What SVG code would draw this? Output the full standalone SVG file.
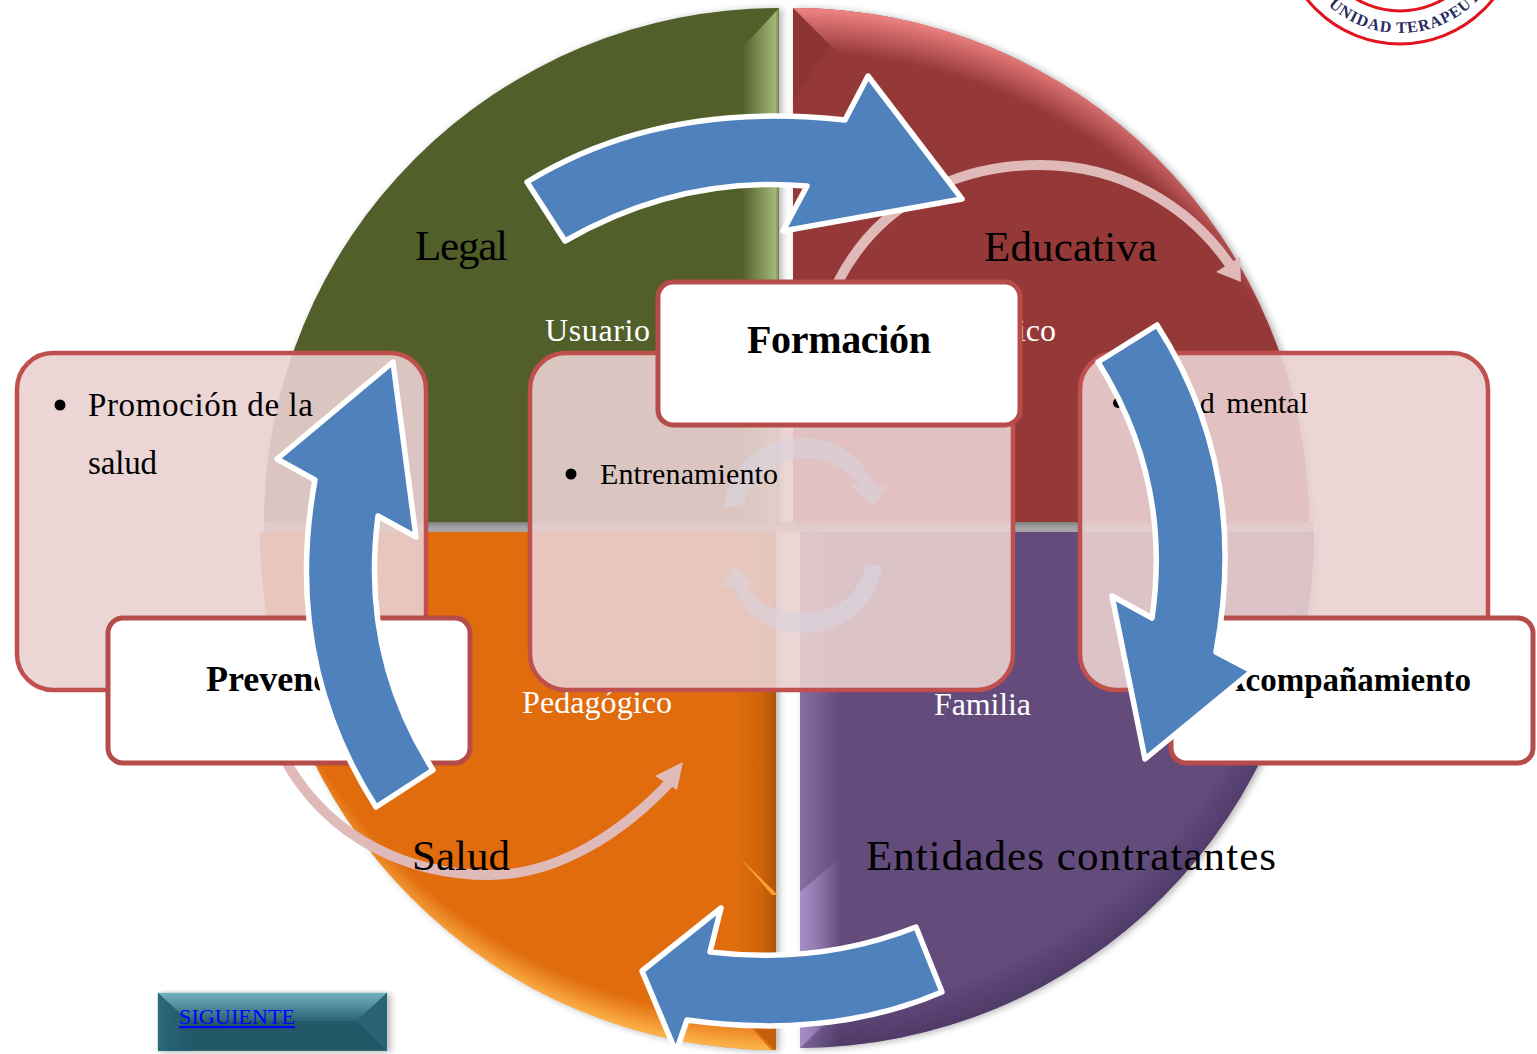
<svg xmlns="http://www.w3.org/2000/svg" xmlns:xlink="http://www.w3.org/1999/xlink" width="1537" height="1054" viewBox="0 0 1537 1054">
<style>
text{font-family:"Liberation Serif","Times New Roman",serif}
.big{font-size:43px;fill:#000}
.wh{font-size:32px;fill:#fff}
.bd{font-size:33px;fill:#000}
.hd{font-weight:bold;fill:#000}
.pink{fill:#e9d0d0;fill-opacity:.9;stroke:#c0504d;stroke-width:4.5}
.white{fill:#fff;stroke:#b54c49;stroke-width:5}
.blue{fill:#4f81bd;stroke:#fff;stroke-width:5.5;stroke-linejoin:round}
.arc{fill:none;stroke:#e0b9b9;stroke-width:10}
.head{fill:#e0b9b9}
.faint{fill:#d9d3de;fill-opacity:.6}
</style>
<defs>
<filter id="sh" x="-5%" y="-5%" width="110%" height="110%"><feDropShadow dx="3" dy="1" stdDeviation="3.5" flood-color="#000" flood-opacity=".3"/></filter>
<linearGradient id="gE" gradientUnits="userSpaceOnUse" x1="742" y1="0" x2="779" y2="0"><stop offset="0" stop-color="#9fb573" stop-opacity="0"/><stop offset=".9" stop-color="#a3b878"/><stop offset="1" stop-color="#6f8045"/></linearGradient>
<linearGradient id="oE" gradientUnits="userSpaceOnUse" x1="735" y1="0" x2="778" y2="0"><stop offset="0" stop-color="#a85205" stop-opacity="0"/><stop offset=".6" stop-color="#a85205" stop-opacity=".3"/><stop offset="1" stop-color="#a85205"/></linearGradient>
<linearGradient id="pE" gradientUnits="userSpaceOnUse" x1="800" y1="0" x2="840" y2="0"><stop offset="0" stop-color="#b09ad0"/><stop offset="1" stop-color="#b09ad0" stop-opacity="0"/></linearGradient>
<linearGradient id="gap" gradientUnits="userSpaceOnUse" x1="0" y1="522" x2="0" y2="533"><stop offset="0" stop-color="#999"/><stop offset="1" stop-color="#bbb"/></linearGradient>
<radialGradient id="rR" gradientUnits="userSpaceOnUse" cx="793" cy="600" r="592"><stop offset=".925" stop-color="#f08080" stop-opacity="0"/><stop offset="1" stop-color="#ef8484"/></radialGradient>
<radialGradient id="rO" gradientUnits="userSpaceOnUse" cx="779" cy="480" r="570"><stop offset=".945" stop-color="#ffb54d" stop-opacity="0"/><stop offset="1" stop-color="#ffb54d"/></radialGradient>
<radialGradient id="rP" gradientUnits="userSpaceOnUse" cx="800" cy="520" r="530"><stop offset=".92" stop-color="#3d2a55" stop-opacity="0"/><stop offset="1" stop-color="#3d2a55" stop-opacity=".55"/></radialGradient>
<linearGradient id="btnT" x1="0" y1="0" x2="0" y2="1"><stop offset="0" stop-color="#73b2c3"/><stop offset="1" stop-color="#2a6373"/></linearGradient>
<linearGradient id="btnL" x1="0" y1="0" x2="1" y2="0"><stop offset="0" stop-color="#2f6c7c"/><stop offset="1" stop-color="#215968"/></linearGradient>
<clipPath id="qR"><path d="M793,8 A516,516 0 0 1 1309,522 L793,522 Z"/></clipPath>
<clipPath id="qO"><path d="M776,532 L260,532 A518,518 0 0 0 776,1050 Z"/></clipPath>
<clipPath id="qP"><path d="M800,532 L1314,532 A516,516 0 0 1 800,1048 Z"/></clipPath>
<path id="seal" d="M1292,-75 A108,108 0 0 0 1508,-75"/>
</defs>

<g id="seal-mark">
<circle cx="1400" cy="-75" r="119" fill="#fff" stroke="#e2131f" stroke-width="3"/>
<circle cx="1400" cy="-75" r="86" fill="#fff" stroke="#e2131f" stroke-width="3"/>
<text font-size="16" font-weight="bold" fill="#2b2b63" letter-spacing="1"><textPath xlink:href="#seal" href="#seal" startOffset="91">UNIDAD TERAPEUT</textPath></text>
</g>

<g id="quadrants">
<rect x="264" y="522" width="1050" height="11" fill="url(#gap)"/>
<g id="q-legal">
<path d="M779,8 A515,515 0 0 0 264,522 L779,522 Z" fill="#525f2a" filter="url(#sh)"/>
<path d="M779,8 L742,48 L742,522 L779,522 Z" fill="url(#gE)"/>
</g>
<g id="q-educativa">
<path d="M793,8 A516,516 0 0 1 1309,522 L793,522 Z" fill="#953838" filter="url(#sh)"/>
<path clip-path="url(#qR)" d="M793,0 V8 L860,75 V522 H1320 V0 Z" fill="url(#rR)"/>
<path d="M793,8 L830,45 L793,100 Z" fill="#853032" opacity=".5"/>
</g>
<g id="q-salud">
<path d="M776,532 L260,532 A518,518 0 0 0 776,1050 Z" fill="#e06c0e" filter="url(#sh)"/>
<path clip-path="url(#qO)" d="M250,532 L776,532 L776,1050 L735,1010 L250,1010 Z" fill="url(#oE)"/>
<path clip-path="url(#qO)" d="M240,700 L735,1010 L776,1055 L240,1055 Z" fill="url(#rO)"/>
<path d="M776,1050 L735,1010 L776,1010 Z" fill="#c4600a"/>
<path d="M740,858 L778,895 L772,895 Z" fill="#ffa030"/>
</g>
<g id="q-entidades">
<path d="M800,532 L1314,532 A516,516 0 0 1 800,1048 Z" fill="#634b7b" filter="url(#sh)"/>
<path clip-path="url(#qP)" d="M860,532 H1320 V1060 H790 L860,990 Z" fill="url(#rP)"/>
<rect x="800" y="533" width="40" height="515" fill="url(#pE)" opacity=".45"/>
<path d="M800,892 L840,858 V1008 L800,1048 Z" fill="url(#pE)" opacity=".75"/>
</g>
</g>

<g id="connectors-back">
<path class="arc" d="M838,282 C880,200 960,165 1040,165 C1120,165 1190,205 1232,268"/>
<path class="head" d="M1241,282 L1216,272 L1240,257 Z"/>
<path class="arc" d="M285,760 C330,840 410,875 490,875 C560,875 625,830 670,782"/>
<path class="head" d="M683,762 L655,776 L677,790 Z"/>
</g>

<g id="labels">
<text class="big" x="415" y="260" textLength="93">Legal</text>
<text class="big" x="984" y="261" textLength="173">Educativa</text>
<text class="big" x="412" y="870" textLength="98">Salud</text>
<text class="big" x="866" y="870" textLength="410">Entidades contratantes</text>
<text class="wh" x="545" y="341" textLength="105">Usuario</text>
<text class="wh" x="1056" y="341" text-anchor="end">ico</text>
<text class="wh" x="522" y="713" textLength="150">Pedagógico</text>
<text class="wh" x="934" y="715" textLength="97">Familia</text>
</g>

<g id="box-prevencion-detail">
<rect class="pink" x="17" y="353" width="409" height="337" rx="36"/>
<circle cx="60" cy="405" r="5.5"/>
<text class="bd" x="88" y="416" textLength="225">Promoción de la</text>
<text class="bd" x="88" y="474" textLength="69">salud</text>
</g>
<g id="box-formacion-detail">
<rect class="pink" x="530" y="353" width="483" height="337" rx="36"/>
<path class="faint" d="M724,507 C730,460 765,438 802,438 C835,438 860,455 875,485 L887,485 L874,507 L850,485 L860,485 C845,468 825,458 802,458 C775,458 750,475 743,507 Z"/>
<path class="faint" d="M882,565 C878,605 845,633 802,633 C770,633 745,615 733,587 L722,587 L734,565 L757,587 L746,587 C757,603 778,613 802,613 C835,613 860,595 865,565 Z"/>
<circle cx="571" cy="474" r="5.5"/>
<text class="bd" x="600" y="484" textLength="178" style="font-size:30px">Entrenamiento</text>
</g>
<g id="box-acompanamiento-detail">
<rect class="pink" x="1080" y="353" width="408" height="337" rx="36"/>
<circle cx="1118" cy="403" r="5"/>
<text class="bd" x="1308" y="413" text-anchor="end" style="font-size:30px;word-spacing:4px">Salud mental</text>
</g>

<g id="node-formacion">
<rect class="white" x="658" y="282" width="362" height="143" rx="15"/>
<text class="hd" x="747" y="353" textLength="184" style="font-size:40px">Formación</text>
</g>
<g id="node-prevencion">
<rect class="white" x="108" y="618" width="362" height="145" rx="15"/>
<text class="hd" x="206" y="691" style="font-size:36px">Prevención</text>
</g>
<g id="node-acompanamiento">
<rect class="white" x="1171" y="618" width="362" height="145" rx="15"/>
<text class="hd" x="1471" y="691" text-anchor="end" style="font-size:33px">Acompañamiento</text>
</g>

<g id="connectors">
<path class="blue" d="M527,182 Q660,100 845,120 L868,76 L962,199 L783,231 L807,186 Q680,175 565,241 Z"/>
<path class="blue" d="M1157,325 Q1250,470 1216,652 L1252,671 L1145,759 L1112,596 L1152,618 Q1172,480 1098,362 Z"/>
<path class="blue" d="M942,992 Q830,1040 687,1020 L676,1052 L642,971 L721,908 L710,952 Q820,965 916,927 Z"/>
<path class="blue" d="M433,770 Q360,655 378,516 L416,537 L393,362 L277,459 L315,480 Q282,660 376,807 Z"/>
</g>

<g id="node-siguiente">
<rect x="158" y="993" width="229" height="58" fill="#215968" stroke="#7aa" stroke-opacity=".5" filter="url(#sh)"/>
<path d="M158,993 H387 L357,1021 H188 Z" fill="url(#btnT)"/>
<path d="M158,993 L188,1021 V1051 H158 Z" fill="url(#btnL)" opacity=".8"/>
<path d="M387,993 L357,1021 L387,1051 Z" fill="#2a6373"/>
<text x="179" y="1024" font-size="22" fill="#0000ff" text-decoration="underline" textLength="116">SIGUIENTE</text>
</g>
</svg>
